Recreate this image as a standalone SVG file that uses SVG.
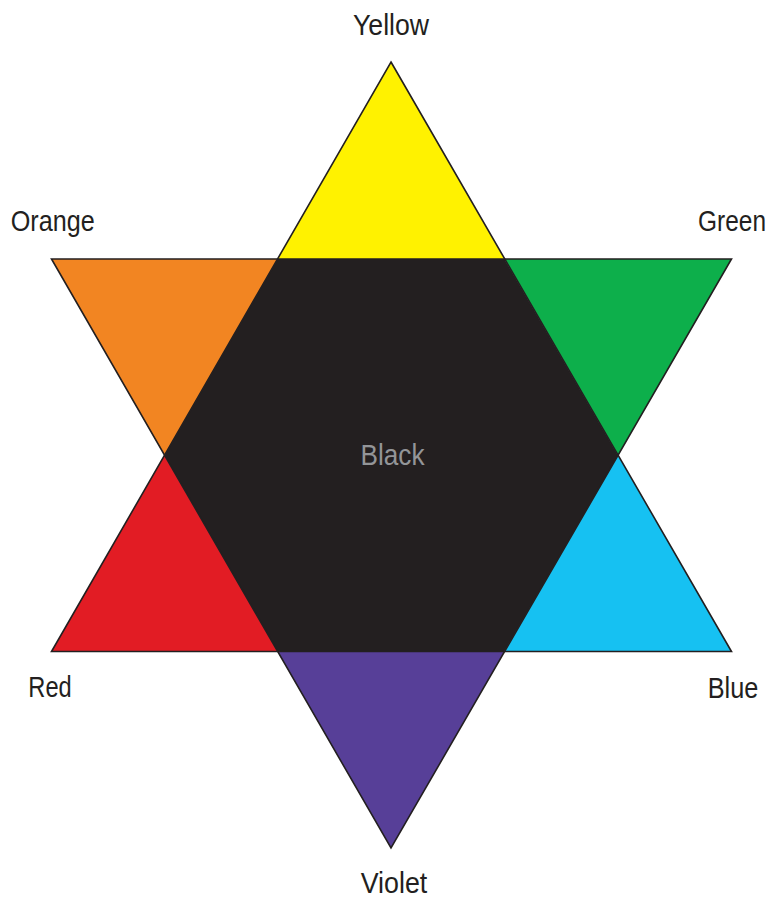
<svg xmlns="http://www.w3.org/2000/svg" width="774" height="901" viewBox="0 0 774 901">
<style>
.lbl{font-family:"Liberation Sans Narrow","Liberation Sans",Arial,sans-serif;font-size:30px;fill:#231f20}
.tri{stroke:none}
.edge{fill:none;stroke:#231f20;stroke-width:1.6;stroke-linejoin:miter}
</style>
<rect width="774" height="901" fill="#ffffff"/>
<g id="yellow"><polygon class="tri" fill="#fff200" points="391,62 504.4,259 277.6,259"/></g>
<g id="green"><polygon class="tri" fill="#0daf4b" points="504.4,259 731.5,259 618,455.5"/></g>
<g id="blue"><polygon class="tri" fill="#16c1f2" points="618,455.5 731.5,651.5 504.4,651.5"/></g>
<g id="violet"><polygon class="tri" fill="#573f98" points="504.4,651.5 391,848 277.6,651.5"/></g>
<g id="red"><polygon class="tri" fill="#e21c24" points="277.6,651.5 51.5,651.5 164.5,455.5"/></g>
<g id="orange"><polygon class="tri" fill="#f28522" points="164.5,455.5 51.5,259 277.6,259"/></g>
<g id="black"><polygon class="tri" fill="#231f20" points="277.6,259 504.4,259 618,455.5 504.4,651.5 277.6,651.5 164.5,455.5"/>
<text class="lbl" x="392.5" y="464.5" text-anchor="middle" style="fill:#939598" textLength="64" lengthAdjust="spacingAndGlyphs">Black</text></g>
<g id="outlines">
<polygon class="edge" points="391,62 731.5,651.5 51.5,651.5"/>
<polygon class="edge" points="51.5,259 731.5,259 391,848"/>
</g>
<g id="labels">
<text class="lbl" x="391" y="35" text-anchor="middle" textLength="76" lengthAdjust="spacingAndGlyphs">Yellow</text>
<text class="lbl" x="10.7" y="230.5" textLength="84" lengthAdjust="spacingAndGlyphs">Orange</text>
<text class="lbl" transform="translate(766,230.5) scale(0.815,1)" x="0" y="0" text-anchor="end">Green</text>
<text class="lbl" x="28.3" y="696.5" textLength="43.4" lengthAdjust="spacingAndGlyphs">Red</text>
<text class="lbl" x="758.3" y="697.5" text-anchor="end" textLength="50.6" lengthAdjust="spacingAndGlyphs">Blue</text>
<text class="lbl" x="394" y="892.5" text-anchor="middle" textLength="66.6" lengthAdjust="spacingAndGlyphs">Violet</text>
</g>
</svg>
